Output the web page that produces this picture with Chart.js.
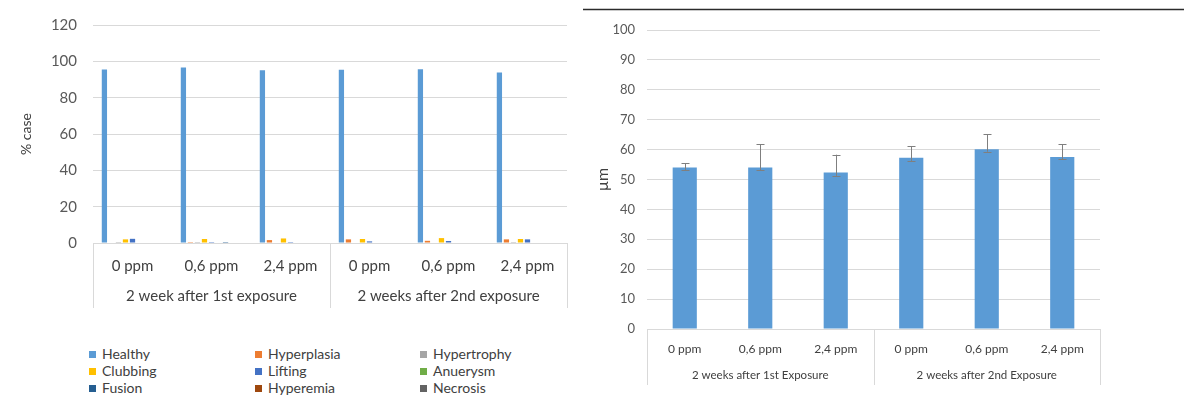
<!DOCTYPE html>
<html>
<head>
<meta charset="utf-8">
<script src="https://cdn.jsdelivr.net/npm/chart.js@4.4.1/dist/chart.umd.min.js"></script>
<style>
  body { margin: 0; background: #fff; width: 1184px; height: 401px; position: relative; overflow: hidden; font-family: Lato, sans-serif; }
  #lesionBox { position: absolute; left: 0; top: 0; width: 590px; height: 320px; }
  #thicknessBox { position: absolute; left: 580px; top: 0; width: 604px; height: 401px; }
  .key { position: absolute; font-size: 14px; color: #404040; display: flex; align-items: center; white-space: nowrap; line-height: 16px; }
  .key i { display: inline-block; width: 7px; height: 7px; margin-right: 6px; }
</style>
</head>
<body>
<div id="lesionBox"><canvas id="lesionChart"></canvas></div>
<div id="lesionLegend"></div>
<div id="thicknessBox"><canvas id="thicknessChart"></canvas></div>
<script>
// doses and exposure periods (two-level category axis)
const doses = ["0 ppm", "0,6 ppm", "2,4 ppm", "0 ppm", "0,6 ppm", "2,4 ppm"];
const periodsLesion = ["2 week after 1st exposure", "2 weeks after 2nd exposure"];
const periodsThickness = ["2 weeks after 1st Exposure", "2 weeks after 2nd Exposure"];

// gill lesions, % of cases
const lesionNames = ["Healthy", "Hyperplasia", "Hypertrophy", "Clubbing", "Lifting", "Anuerysm", "Fusion", "Hyperemia", "Necrosis"];
const healthy = [95.5, 96.6, 95.1, 95.3, 95.7, 93.9];
const hyperplasia = [0, 0.5, 1.6, 2.0, 1.2, 2.0];
const hypertrophy = [0.5, 0.5, 0, 0, 0, 0.5];
const clubbing = [2.0, 2.2, 2.5, 2.2, 2.7, 2.2];
const lifting = [2.3, 0.5, 0.5, 0.9, 1.1, 2.0];
const anuerysm = [0, 0, 0, 0, 0, 0];
const fusion = [0, 0.5, 0, 0, 0, 0];
const hyperemia = [0, 0, 0, 0, 0, 0];
const necrosis = [0, 0, 0, 0, 0, 0];
const lesionTicks = [0, 20, 40, 60, 80, 100, 120];

// thickness in µm with asymmetric error bars
const thickness = [54.0, 54.0, 52.3, 57.3, 60.1, 57.5];
const errUp = [1.4, 7.8, 6.0, 3.8, 5.0, 4.3];
const errDown = [0.9, 0.9, 1.1, 1.1, 0.8, 0.7];
const thicknessTicks = [0, 10, 20, 30, 40, 50, 60, 70, 80, 90, 100];

const lesionColors = ["#5B9BD5", "#ED7D31", "#A5A5A5", "#FFC000", "#4472C4", "#70AD47", "#255E91", "#9E480E", "#636363"];
const lesionValues = [healthy, hyperplasia, hypertrophy, clubbing, lifting, anuerysm, fusion, hyperemia, necrosis];

const gridColor = "#d9d9d9";
const tickColor = "#595959";

// draws the period row under the dose labels, with separators
const groupAxis = {
  id: "groupAxis",
  afterDraw(chart, args, opts) {
    const { ctx, chartArea } = chart;
    const x = chart.scales.x;
    const mid = (x.getPixelForValue(2) + x.getPixelForValue(3)) / 2;
    const edges = [chartArea.left, mid, chartArea.right];
    ctx.save();
    ctx.strokeStyle = gridColor;
    ctx.lineWidth = 1;
    edges.forEach((px) => {
      const p = Math.round(px) + 0.5;
      ctx.beginPath();
      ctx.moveTo(p, chartArea.bottom);
      ctx.lineTo(p, opts.lineEnd);
      ctx.stroke();
    });
    ctx.fillStyle = opts.color;
    ctx.font = opts.font;
    ctx.textAlign = "center";
    ctx.textBaseline = "middle";
    opts.labels.forEach((txt, i) => {
      ctx.fillText(txt, (edges[i] + edges[i + 1]) / 2, opts.labelY);
    });
    ctx.restore();
  },
};

// error bars for the thickness chart
const errorBars = {
  id: "errorBars",
  afterDatasetsDraw(chart) {
    const { ctx } = chart;
    const y = chart.scales.y;
    const meta = chart.getDatasetMeta(0);
    ctx.save();
    ctx.strokeStyle = "#7f7f7f";
    ctx.lineWidth = 1;
    meta.data.forEach((bar, i) => {
      const v = thickness[i];
      const top = y.getPixelForValue(v + errUp[i]);
      const bot = y.getPixelForValue(v - errDown[i]);
      const cx = Math.round(bar.x) + 0.5;
      ctx.beginPath();
      ctx.moveTo(cx, top);
      ctx.lineTo(cx, bot);
      ctx.moveTo(cx - 4, Math.round(top) + 0.5);
      ctx.lineTo(cx + 4, Math.round(top) + 0.5);
      ctx.moveTo(cx - 4, Math.round(bot) + 0.5);
      ctx.lineTo(cx + 4, Math.round(bot) + 0.5);
      ctx.stroke();
    });
    ctx.restore();
  },
};

// dark rule along the top of the right panel
const topRule = {
  id: "topRule",
  beforeDraw(chart) {
    const { ctx, width } = chart;
    ctx.save();
    ctx.strokeStyle = "#2b2b2b";
    ctx.lineWidth = 1.3;
    ctx.beginPath();
    ctx.moveTo(3, 9.5);
    ctx.lineTo(width, 9.5);
    ctx.stroke();
    ctx.restore();
  },
};

// LESIONS (grouped bars)
const lesionChart = new Chart(document.getElementById("lesionChart"), {
  type: "bar",
  data: {
    labels: doses,
    datasets: lesionNames.map((name, i) => ({
      label: name,
      data: lesionValues[i],
      backgroundColor: lesionColors[i],
      categoryPercentage: 0.8,
      barPercentage: 0.75,
    })),
  },
  options: {
    responsive: true,
    maintainAspectRatio: false,
    animation: false,
    layout: { padding: { top: 21, right: 23, bottom: 0, left: 0 } },
    plugins: {
      legend: { display: false },
      tooltip: { enabled: false },
      groupAxis: { labels: periodsLesion, labelY: 296, lineEnd: 308, font: "15px Lato", color: "#404040" },
    },
    scales: {
      x: {
        grid: { display: false },
        border: { display: false },
        ticks: { color: "#404040", font: { family: "Lato", size: 15 }, padding: 6, maxRotation: 0 },
        afterFit: (s) => { s.height = 77; },
      },
      y: {
        min: 0,
        max: 120,
        afterBuildTicks: (s) => { s.ticks = lesionTicks.map((v) => ({ value: v })); },
        grid: { color: gridColor, drawTicks: false },
        border: { display: false },
        ticks: { color: tickColor, font: { family: "Lato", size: 15 }, padding: 16 },
        title: { display: true, text: "% case", color: "#404040", font: { family: "Lato", size: 14 }, padding: { top: 18, bottom: 0 } },
        afterFit: (s) => { s.width = 93; },
      },
    },
  },
  plugins: [groupAxis],
});

// legend in three columns under the lesion chart
const legendCols = [89, 255, 420];
const legendRows = [354, 371, 388];
const legendBox = document.getElementById("lesionLegend");
lesionChart.data.datasets.forEach((ds, i) => {
  const el = document.createElement("div");
  el.className = "key";
  el.style.left = legendCols[i % 3] + "px";
  el.style.top = legendRows[Math.floor(i / 3)] - 8 + "px";
  el.innerHTML = '<i style="background:' + ds.backgroundColor + '"></i>' + ds.label;
  legendBox.appendChild(el);
});

// THICKNESS (bars with error bars)
new Chart(document.getElementById("thicknessChart"), {
  type: "bar",
  data: {
    labels: doses,
    datasets: [
      {
        label: "µm",
        data: thickness,
        backgroundColor: "#5B9BD5",
        categoryPercentage: 1,
        barPercentage: 0.32,
      },
    ],
  },
  options: {
    responsive: true,
    maintainAspectRatio: false,
    animation: false,
    layout: { padding: { top: 30, right: 84, bottom: 0, left: 0 } },
    plugins: {
      legend: { display: false },
      tooltip: { enabled: false },
      groupAxis: { labels: periodsThickness, labelY: 375, lineEnd: 385, font: "11.5px Lato", color: "#404040" },
    },
    scales: {
      x: {
        grid: { display: false },
        border: { display: false },
        ticks: { color: "#404040", font: { family: "Lato", size: 12 }, padding: 5, maxRotation: 0 },
        afterFit: (s) => { s.height = 72; },
      },
      y: {
        min: 0,
        max: 100,
        afterBuildTicks: (s) => { s.ticks = thicknessTicks.map((v) => ({ value: v })); },
        grid: { color: gridColor, drawTicks: false },
        border: { display: false },
        ticks: { color: tickColor, font: { family: "Lato", size: 13 }, padding: 12 },
        title: { display: true, text: "µm", color: "#404040", font: { family: "Lato", size: 16 }, padding: { top: 13, bottom: 0 } },
        afterFit: (s) => { s.width = 67; },
      },
    },
  },
  plugins: [groupAxis, errorBars, topRule],
});
</script>
</body>
</html>
